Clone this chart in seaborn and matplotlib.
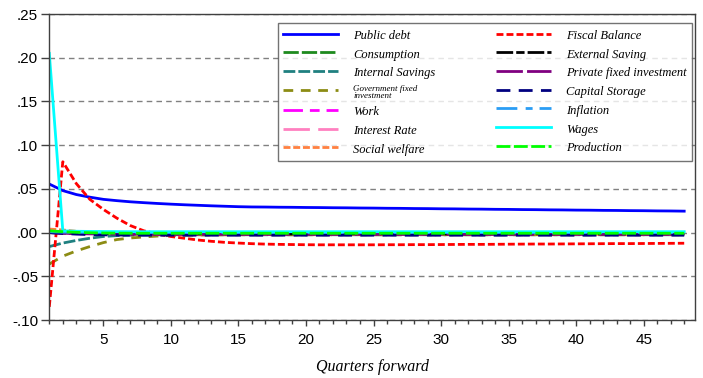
import numpy as np
import pandas as pd
import seaborn as sns
import matplotlib.pyplot as plt
from matplotlib.ticker import MultipleLocator, FuncFormatter
from matplotlib.font_manager import FontProperties

quarters = list(range(1, 49))

public_debt = [0.0555, 0.0480, 0.0435, 0.0405, 0.0380, 0.0365, 0.0352, 0.0342, 0.0333, 0.0325, 0.0318, 0.0312,
               0.0306, 0.0301, 0.0296, 0.0293, 0.0292, 0.0290, 0.0289, 0.0287, 0.0286, 0.0284, 0.0283, 0.0281,
               0.0280, 0.0278, 0.0277, 0.0275, 0.0274, 0.0272, 0.0271, 0.0269, 0.0268, 0.0266, 0.0265, 0.0263,
               0.0262, 0.0260, 0.0259, 0.0257, 0.0256, 0.0254, 0.0253, 0.0251, 0.0250, 0.0248, 0.0247, 0.0245]
fiscal_balance = [-0.0850, 0.0810, 0.0560, 0.0380, 0.0265, 0.0165, 0.0080, 0.0020, -0.0015, -0.0045, -0.0065, -0.0085,
                  -0.0100, -0.0112, -0.0120, -0.0127, -0.0132, -0.0135, -0.0137, -0.0139, -0.0140, -0.0140, -0.0140, -0.0140,
                  -0.0140, -0.0139, -0.0139, -0.0138, -0.0138, -0.0137, -0.0136, -0.0135, -0.0135, -0.0134, -0.0133, -0.0132,
                  -0.0131, -0.0131, -0.0130, -0.0129, -0.0128, -0.0127, -0.0126, -0.0126, -0.0125, -0.0124, -0.0123, -0.0122]
consumption = [0.0010, 0.0000, -0.0005, -0.0008, -0.0010, -0.0010, -0.0010, -0.0010, -0.0010, -0.0010, -0.0010, -0.0010,
               -0.0010, -0.0010, -0.0010, -0.0010, -0.0010, -0.0010, -0.0010, -0.0010, -0.0010, -0.0010, -0.0010, -0.0010,
               -0.0010, -0.0010, -0.0010, -0.0010, -0.0010, -0.0010, -0.0010, -0.0010, -0.0010, -0.0010, -0.0010, -0.0010,
               -0.0010, -0.0010, -0.0010, -0.0010, -0.0010, -0.0010, -0.0010, -0.0010, -0.0010, -0.0010, -0.0010, -0.0010]
external_saving = [0.0000, -0.0005, -0.0008, -0.0010, -0.0012, -0.0013, -0.0014, -0.0015, -0.0015, -0.0015, -0.0015, -0.0015,
                   -0.0015, -0.0015, -0.0015, -0.0015, -0.0015, -0.0015, -0.0015, -0.0015, -0.0015, -0.0015, -0.0015, -0.0015,
                   -0.0015, -0.0015, -0.0015, -0.0015, -0.0015, -0.0015, -0.0015, -0.0015, -0.0015, -0.0015, -0.0015, -0.0015,
                   -0.0015, -0.0015, -0.0015, -0.0015, -0.0015, -0.0015, -0.0015, -0.0015, -0.0015, -0.0015, -0.0015, -0.0015]
internal_savings = [-0.0160, -0.0120, -0.0090, -0.0065, -0.0045, -0.0035, -0.0030, -0.0028, -0.0026, -0.0025, -0.0025, -0.0025,
                    -0.0025, -0.0025, -0.0025, -0.0025, -0.0025, -0.0025, -0.0025, -0.0025, -0.0025, -0.0025, -0.0025, -0.0025,
                    -0.0025, -0.0025, -0.0025, -0.0025, -0.0025, -0.0025, -0.0025, -0.0025, -0.0025, -0.0025, -0.0025, -0.0025,
                    -0.0025, -0.0025, -0.0025, -0.0025, -0.0025, -0.0025, -0.0025, -0.0025, -0.0025, -0.0025, -0.0025, -0.0025]
private_investment = [0.0000, -0.0008, -0.0012, -0.0015, -0.0017, -0.0018, -0.0019, -0.0020, -0.0020, -0.0020, -0.0020, -0.0020,
                      -0.0020, -0.0020, -0.0020, -0.0020, -0.0020, -0.0020, -0.0020, -0.0020, -0.0020, -0.0020, -0.0020, -0.0020,
                      -0.0020, -0.0020, -0.0020, -0.0020, -0.0020, -0.0020, -0.0020, -0.0020, -0.0020, -0.0020, -0.0020, -0.0020,
                      -0.0020, -0.0020, -0.0020, -0.0020, -0.0020, -0.0020, -0.0020, -0.0020, -0.0020, -0.0020, -0.0020, -0.0020]
government_investment = [-0.0360, -0.0270, -0.0210, -0.0160, -0.0115, -0.0080, -0.0062, -0.0050, -0.0040, -0.0033, -0.0030, -0.0028,
                         -0.0027, -0.0026, -0.0025, -0.0025, -0.0025, -0.0025, -0.0025, -0.0025, -0.0025, -0.0025, -0.0025, -0.0025,
                         -0.0025, -0.0025, -0.0025, -0.0025, -0.0025, -0.0025, -0.0025, -0.0025, -0.0025, -0.0025, -0.0025, -0.0025,
                         -0.0025, -0.0025, -0.0025, -0.0025, -0.0025, -0.0025, -0.0025, -0.0025, -0.0025, -0.0025, -0.0025, -0.0025]
capital_storage = [0.0000, -0.0010, -0.0018, -0.0023, -0.0026, -0.0028, -0.0029, -0.0030, -0.0030, -0.0030, -0.0030, -0.0030,
                   -0.0030, -0.0030, -0.0030, -0.0030, -0.0030, -0.0030, -0.0030, -0.0030, -0.0030, -0.0030, -0.0030, -0.0030,
                   -0.0030, -0.0030, -0.0030, -0.0030, -0.0030, -0.0030, -0.0030, -0.0030, -0.0030, -0.0030, -0.0030, -0.0030,
                   -0.0030, -0.0030, -0.0030, -0.0030, -0.0030, -0.0030, -0.0030, -0.0030, -0.0030, -0.0030, -0.0030, -0.0030]
work = [0.0005, 0.0003, 0.0001, 0.0000, -0.0001, -0.0002, -0.0002, -0.0002, -0.0002, -0.0002, -0.0002, -0.0002,
        -0.0002, -0.0002, -0.0002, -0.0002, -0.0002, -0.0002, -0.0002, -0.0002, -0.0002, -0.0002, -0.0002, -0.0002,
        -0.0002, -0.0002, -0.0002, -0.0002, -0.0002, -0.0002, -0.0002, -0.0002, -0.0002, -0.0002, -0.0002, -0.0002,
        -0.0002, -0.0002, -0.0002, -0.0002, -0.0002, -0.0002, -0.0002, -0.0002, -0.0002, -0.0002, -0.0002, -0.0002]
inflation = [0.0010, 0.0005, 0.0003, 0.0002, 0.0001, 0.0000, 0.0000, 0.0000, 0.0000, 0.0000, 0.0000, 0.0000,
             0.0000, 0.0000, 0.0000, 0.0000, 0.0000, 0.0000, 0.0000, 0.0000, 0.0000, 0.0000, 0.0000, 0.0000,
             0.0000, 0.0000, 0.0000, 0.0000, 0.0000, 0.0000, 0.0000, 0.0000, 0.0000, 0.0000, 0.0000, 0.0000,
             0.0000, 0.0000, 0.0000, 0.0000, 0.0000, 0.0000, 0.0000, 0.0000, 0.0000, 0.0000, 0.0000, 0.0000]
interest_rate = [0.0020, 0.0010, 0.0005, 0.0002, 0.0000, 0.0000, 0.0000, 0.0000, 0.0000, 0.0000, 0.0000, 0.0000,
                 0.0000, 0.0000, 0.0000, 0.0000, 0.0000, 0.0000, 0.0000, 0.0000, 0.0000, 0.0000, 0.0000, 0.0000,
                 0.0000, 0.0000, 0.0000, 0.0000, 0.0000, 0.0000, 0.0000, 0.0000, 0.0000, 0.0000, 0.0000, 0.0000,
                 0.0000, 0.0000, 0.0000, 0.0000, 0.0000, 0.0000, 0.0000, 0.0000, 0.0000, 0.0000, 0.0000, 0.0000]
wages = [0.2050, 0.0020, 0.0015, 0.0013, 0.0012, 0.0011, 0.0010, 0.0010, 0.0010, 0.0010, 0.0010, 0.0010,
         0.0010, 0.0010, 0.0010, 0.0010, 0.0010, 0.0010, 0.0010, 0.0010, 0.0010, 0.0010, 0.0010, 0.0010,
         0.0010, 0.0010, 0.0010, 0.0010, 0.0010, 0.0010, 0.0010, 0.0010, 0.0010, 0.0010, 0.0010, 0.0010,
         0.0010, 0.0010, 0.0010, 0.0010, 0.0010, 0.0010, 0.0010, 0.0010, 0.0010, 0.0010, 0.0010, 0.0010]
social_welfare = [0.0040, 0.0030, 0.0015, 0.0005, -0.0005, -0.0012, -0.0016, -0.0018, -0.0020, -0.0020, -0.0020, -0.0020,
                  -0.0020, -0.0020, -0.0020, -0.0020, -0.0020, -0.0020, -0.0020, -0.0020, -0.0020, -0.0020, -0.0020, -0.0020,
                  -0.0020, -0.0020, -0.0020, -0.0020, -0.0020, -0.0020, -0.0020, -0.0020, -0.0020, -0.0020, -0.0020, -0.0020,
                  -0.0020, -0.0020, -0.0020, -0.0020, -0.0020, -0.0020, -0.0020, -0.0020, -0.0020, -0.0020, -0.0020, -0.0020]
production = [0.0020, 0.0010, 0.0003, -0.0002, -0.0005, -0.0007, -0.0008, -0.0008, -0.0008, -0.0008, -0.0008, -0.0008,
              -0.0008, -0.0008, -0.0008, -0.0008, -0.0008, -0.0008, -0.0008, -0.0008, -0.0008, -0.0008, -0.0008, -0.0008,
              -0.0008, -0.0008, -0.0008, -0.0008, -0.0008, -0.0008, -0.0008, -0.0008, -0.0008, -0.0008, -0.0008, -0.0008,
              -0.0008, -0.0008, -0.0008, -0.0008, -0.0008, -0.0008, -0.0008, -0.0008, -0.0008, -0.0008, -0.0008, -0.0008]

# legend order (two columns, column-major)
names = ['Public debt', 'Consumption', 'Internal Savings', 'Government fixed\ninvestment',
         'Work', 'Interest Rate', 'Social welfare',
         'Fiscal Balance', 'External Saving', 'Private fixed investment', 'Capital Storage',
         'Inflation', 'Wages', 'Production']
values = [public_debt, consumption, internal_savings, government_investment,
          work, interest_rate, social_welfare,
          fiscal_balance, external_saving, private_investment, capital_storage,
          inflation, wages, production]

colors = ['#0000FF', '#1E8A1E', '#1F8080', '#8C8C14', '#FF00FF', '#FF80C0', '#FF8040',
          '#FF0000', '#000000', '#800080', '#000080', '#2A9DF4', '#00FFFF', '#00FF00']
dashes = ['', (11, 2.2), (8.5, 2.2), (7, 5.5), (14, 5, 7, 5), (19, 6), (5, 2),
          (5, 2.2), (12, 2.2, 6, 2.2), (19, 3), (10, 6), (15, 6, 5, 5), '', (10, 2.5)]

df = pd.concat([pd.DataFrame({'quarter': quarters, 'value': v, 'series': n})
                for n, v in zip(names, values)], ignore_index=True)

plt.rcParams['lines.scale_dashes'] = False
fig = plt.figure(figsize=(7.03, 3.78), dpi=100)
ax = fig.add_axes([49.3 / 703, 1 - 320 / 378, (695 - 49.3) / 703, (320 - 14) / 378])

sns.lineplot(data=df, x='quarter', y='value', hue='series', style='series',
             hue_order=names, style_order=names,
             palette=dict(zip(names, colors)), dashes=dict(zip(names, dashes)),
             estimator=None, linewidth=2, legend=False, ax=ax)

ax.set_xlim(1, 48.8)
ax.set_ylim(-0.10, 0.25)
ax.yaxis.set_major_locator(MultipleLocator(0.05))
ax.yaxis.set_major_formatter(FuncFormatter(lambda v, p: ('%.2f' % v).replace('0.', '.')))
ax.xaxis.set_major_locator(MultipleLocator(5))
ax.xaxis.set_minor_locator(MultipleLocator(1))
ax.set_axisbelow(True)
ax.yaxis.grid(True, linestyle=(0, (4, 3)), color='#808080', linewidth=1)
ax.xaxis.grid(False)

tick_font = 'Liberation Sans'
ax.tick_params(axis='y', direction='out', length=6, width=1, color='#404040', labelsize=11, pad=2)
ax.tick_params(axis='x', which='major', direction='out', length=4, width=1, color='#404040', labelsize=11, pad=5)
ax.tick_params(axis='x', which='minor', direction='out', length=3, width=1, color='#404040')
for lab in ax.get_xticklabels() + ax.get_yticklabels():
    lab.set_fontfamily(tick_font)
for s in ax.spines.values():
    s.set_color('#404040')
    s.set_linewidth(1)

ax.set_xlabel('Quarters forward', fontfamily='Liberation Serif', fontstyle='italic', fontsize=11.5, labelpad=9)
ax.set_ylabel('')

leg_font = FontProperties(family='Liberation Serif', style='italic', size=9)
leg = ax.legend(ax.get_lines(), names, ncol=2, loc='upper left', mode='expand',
                bbox_to_anchor=(278 / 703, 1 - 160 / 378, 414 / 703, 137 / 378),
                bbox_transform=fig.transFigure,
                prop=leg_font, frameon=True, fancybox=False, edgecolor='#505050',
                handlelength=4.4, handleheight=1.25, handletextpad=1.2, labelspacing=0.39,
                borderpad=0.42, borderaxespad=0)
leg.get_frame().set_linewidth(1)
txt = leg.get_texts()[3]
txt.set_fontsize(6.5)
txt.set_linespacing(0.85)

fig.savefig('out.png', dpi=100)
